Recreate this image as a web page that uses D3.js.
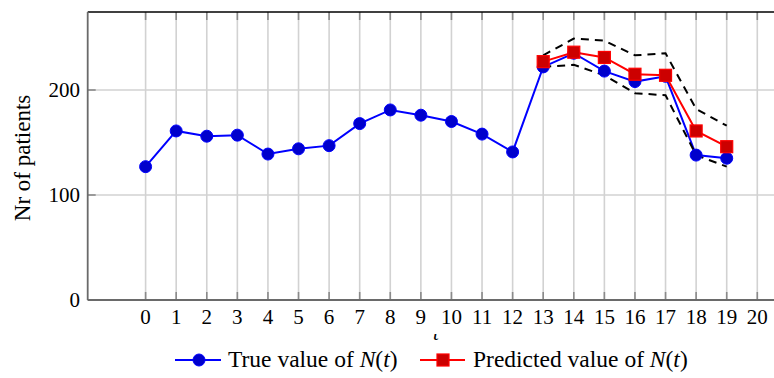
<!DOCTYPE html>
<html><head><meta charset="utf-8">
<script src="https://cdn.jsdelivr.net/npm/d3@7"></script>
<style>html,body{margin:0;padding:0;background:#fff;overflow:hidden} text{font-family:"Liberation Serif",serif}</style>
</head><body>
<svg id="c" width="774" height="378"></svg>
<script>
const xTicks = d3.range(0, 21);
const yTicks = [0, 100, 200];
const trueT = d3.range(0, 20);
const trueVals = [127,161,156,157,139,144,147,168,181,176,170,158,141,222,235,218,208,213,138,135];
const predT = [13,14,15,16,17,18,19];
const predVals = [227,236,231,215,214,161,146];
const upperVals = [233,249,247,233,235,182,166];
const lowerVals = [222,224,214,197,195,138,127];

const svg = d3.select("#c");
const pL = 87.7, pT = 12, pB = 300, pR = 790;
const x = d3.scaleLinear().domain([0, 20]).range([145.6, 757.3]);
const y = d3.scaleLinear().domain([0, 200]).range([pB, 90]);

const g = svg.append("g");
// grid
g.selectAll(".vg").data(xTicks).join("line")
  .attr("x1", d => x(d)).attr("x2", d => x(d)).attr("y1", pT).attr("y2", pB)
  .attr("stroke", "#d2d2d2").attr("stroke-width", 1.6);
g.selectAll(".hg").data(yTicks.filter(d => d > 0)).join("line")
  .attr("x1", pL).attr("x2", pR).attr("y1", d => y(d)).attr("y2", d => y(d))
  .attr("stroke", "#d2d2d2").attr("stroke-width", 1.6);
// ticks (inside)
g.selectAll(".tt").data(xTicks).join("line")
  .attr("x1", d => x(d)).attr("x2", d => x(d)).attr("y1", pT).attr("y2", pT + 8)
  .attr("stroke", "#8a8a8a").attr("stroke-width", 1.6);
g.selectAll(".tb").data(xTicks).join("line")
  .attr("x1", d => x(d)).attr("x2", d => x(d)).attr("y1", pB - 8).attr("y2", pB)
  .attr("stroke", "#8a8a8a").attr("stroke-width", 1.6);
g.selectAll(".tl").data(yTicks).join("line")
  .attr("x1", pL).attr("x2", pL + 8).attr("y1", d => y(d)).attr("y2", d => y(d))
  .attr("stroke", "#8a8a8a").attr("stroke-width", 1.6);
// frame
g.append("line").attr("x1", pL).attr("x2", pR).attr("y1", pT).attr("y2", pT)
  .attr("stroke", "#000").attr("stroke-width", 1.6);
g.append("line").attr("x1", pL).attr("x2", pL).attr("y1", pT).attr("y2", pB)
  .attr("stroke", "#6a6a6a").attr("stroke-width", 1.8);
g.append("line").attr("x1", pL).attr("x2", pR).attr("y1", pB).attr("y2", pB)
  .attr("stroke", "#6a6a6a").attr("stroke-width", 1.8);

// tick labels
g.selectAll(".xl").data(xTicks).join("text")
  .attr("x", d => x(d)).attr("y", 324).attr("text-anchor", "middle")
  .style("font-size", "21px").text(d => d);
g.selectAll(".yl").data(yTicks).join("text")
  .attr("x", 80).attr("y", d => y(d) + 7).attr("text-anchor", "end")
  .style("font-size", "21px").text(d => d);

// y label
g.append("text").attr("transform", "translate(30,158) rotate(-90)")
  .attr("text-anchor", "middle").style("font-size", "23px")
  .text("Nr of patients");

// x label (clipped, only lower part visible)
svg.append("clipPath").attr("id", "tclip").append("rect")
  .attr("x", 420).attr("y", 334).attr("width", 40).attr("height", 10);
g.append("text").attr("x", 436).attr("y", 340).attr("text-anchor", "middle")
  .style("font-style", "italic").style("font-size", "21px")
  .attr("clip-path", "url(#tclip)").text("t");

// lines
const line = d3.line().x(d => x(d[0])).y(d => y(d[1]));
g.append("path").datum(trueT.map((t, i) => [t, trueVals[i]])).attr("d", line)
  .attr("fill", "none").attr("stroke", "#0000ff").attr("stroke-width", 2);
g.append("path").datum(predT.map((t, i) => [t, predVals[i]])).attr("d", line)
  .attr("fill", "none").attr("stroke", "#ff0000").attr("stroke-width", 2);
[upperVals, lowerVals].forEach(vals => {
  g.append("path").datum(predT.map((t, i) => [t, vals[i]])).attr("d", line)
    .attr("fill", "none").attr("stroke", "#000").attr("stroke-width", 2)
    .attr("stroke-dasharray", "8,6");
});
// markers
g.selectAll(".tm").data(trueT.map((t, i) => [t, trueVals[i]])).join("circle")
  .attr("cx", d => x(d[0])).attr("cy", d => y(d[1])).attr("r", 6)
  .attr("fill", "#0000cc").attr("stroke", "#0000ff").attr("stroke-width", 1);
g.selectAll(".pm").data(predT.map((t, i) => [t, predVals[i]])).join("rect")
  .attr("x", d => x(d[0]) - 6).attr("y", d => y(d[1]) - 6).attr("width", 12).attr("height", 12)
  .attr("fill", "#cc0000").attr("stroke", "#ff0000").attr("stroke-width", 1.2);

// legend
const ly = 360;
const leg = g.append("g");
leg.append("line").attr("x1", 175).attr("x2", 221).attr("y1", ly).attr("y2", ly)
  .attr("stroke", "#0000ff").attr("stroke-width", 2);
leg.append("circle").attr("cx", 199).attr("cy", ly).attr("r", 6)
  .attr("fill", "#0000cc").attr("stroke", "#0000ff");
leg.append("line").attr("x1", 420).attr("x2", 465).attr("y1", ly).attr("y2", ly)
  .attr("stroke", "#ff0000").attr("stroke-width", 2);
leg.append("rect").attr("x", 437).attr("y", ly - 6).attr("width", 12).attr("height", 12)
  .attr("fill", "#cc0000").attr("stroke", "#ff0000").attr("stroke-width", 1.2);
function legText(xp, label) {
  const t = leg.append("text").attr("x", xp).attr("y", ly + 7).style("font-size", "23.5px");
  t.append("tspan").text(label + " of ");
  t.append("tspan").style("font-style", "italic").text("N");
  t.append("tspan").text("(");
  t.append("tspan").style("font-style", "italic").text("t");
  t.append("tspan").text(")");
}
legText(228, "True value");
legText(473, "Predicted value");
</script>
</body></html>
